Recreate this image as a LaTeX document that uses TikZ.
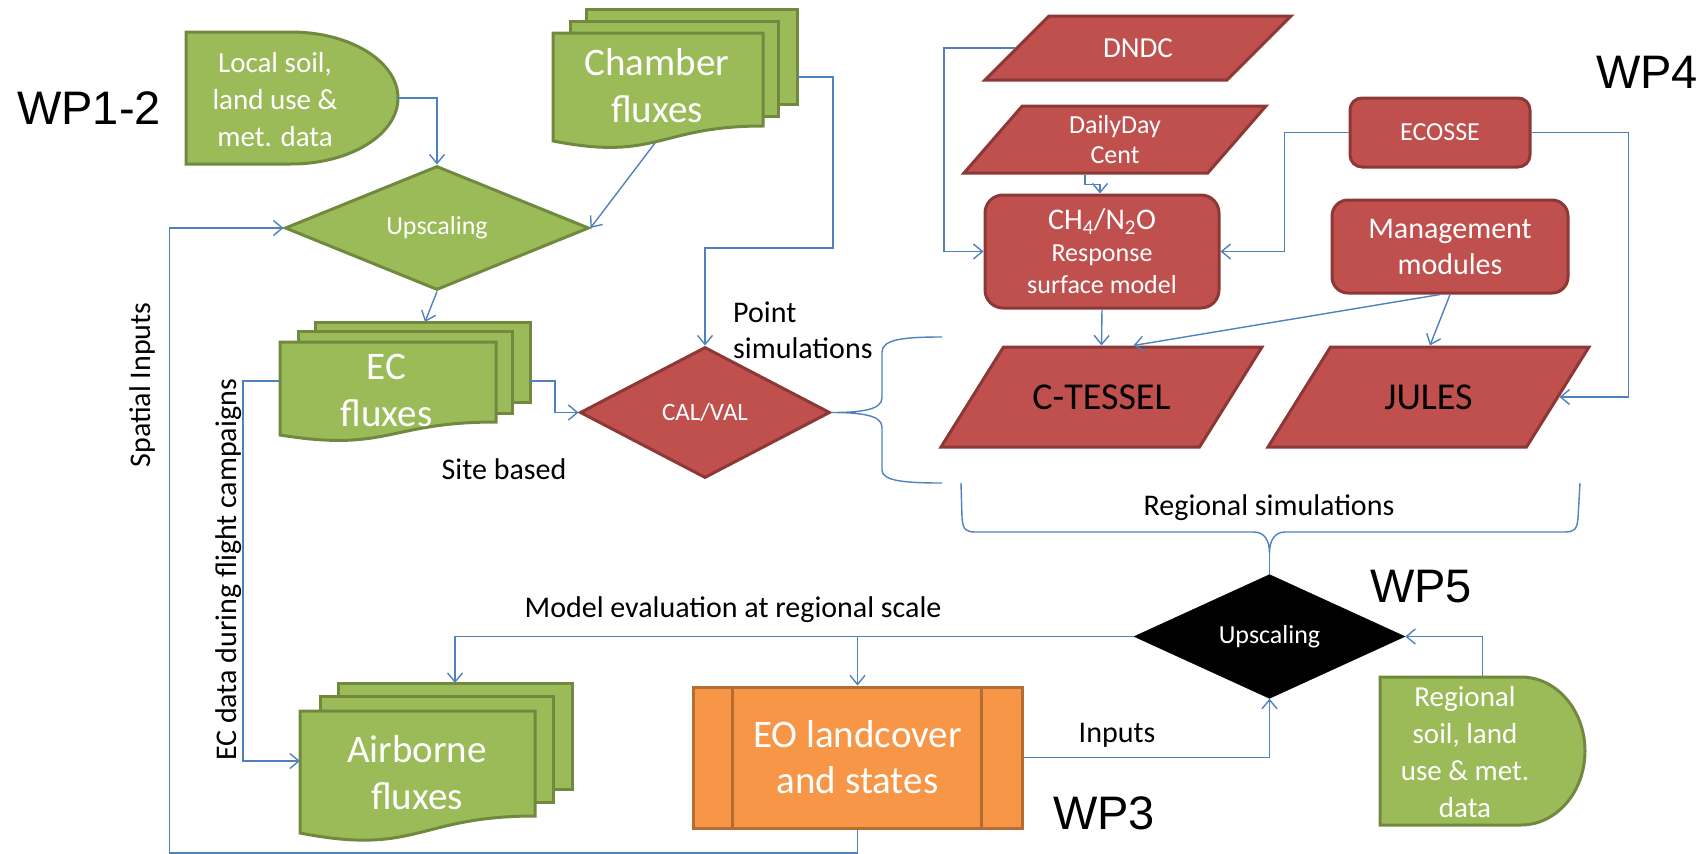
\documentclass[tikz,border=0pt]{standalone}
\usepackage{fontspec}
\setmainfont{Carlito}
\newfontfamily\wpfont{Liberation Sans}
\usetikzlibrary{shapes.geometric,arrows.meta,positioning}

\definecolor{leafgreen}{HTML}{9BBB59}
\definecolor{leafdark}{HTML}{71893F}
\definecolor{brick}{HTML}{C0504D}
\definecolor{brickdark}{HTML}{8C3836}
\definecolor{eoorange}{HTML}{F79646}
\definecolor{eodark}{HTML}{B66D31}
\definecolor{flowblue}{HTML}{4F81BD}

\begin{document}
\begin{tikzpicture}[x=1pt,y=-1pt,
  flow/.style={draw=flowblue,line width=1.4pt,-{Straight Barb[length=9pt,width=15pt]}},
  brace/.style={draw=flowblue,line width=1.4pt},
  gshape/.style={fill=leafgreen,draw=leafdark,line width=3pt},
  rshape/.style={fill=brick,draw=brickdark,line width=3pt},
  slanted/.style={rshape,trapezium,inner xsep=0pt,text height=0pt,text depth=0pt},
  wtext/.style={text=white,align=center,inner sep=0pt},
  area/.style={inner sep=0pt,outer sep=0pt},
  note/.style={inner sep=0pt,font=\fontsize{30}{36}\selectfont},
  wp/.style={inner sep=0pt,font=\wpfont\fontsize{47}{50}\selectfont}]
  \useasboundingbox (0,0) rectangle (1706,854);

  % Work package tags
  \node[wp] (wp12) at (89,108) {WP1-2};
  \node[wp] (wp4) at (1647,72) {WP4};
  \node[wp] (wp5) at (1421,587) {WP5};
  \node[wp] (wp3) at (1104,813) {WP3};

  % Local data (delay shape)
  \draw[gshape] (186,32) -- (291,32) .. controls (350.1,32) and (398,61.55) .. (398,98)
    .. controls (398,134.45) and (350.1,164) .. (291,164) -- (186,164) -- cycle;
  \node[area,minimum width=212pt,minimum height=132pt] (localsoil) at (292,98) {};
  \node[wtext,font=\fontsize{29}{37}\selectfont] (localsoil-t) at (275,100) {Local soil,\\land use \&\\met. data};

  % Chamber fluxes stack
  \draw[gshape] (586,9) rectangle (797,104);
  \draw[gshape] (570,21) rectangle (778,116);
  \draw[gshape] (553,33) -- (763,33) -- (763,126) .. controls (658,126) and (658,161.5) .. (553,141) -- cycle;
  \node[area,minimum width=244pt,minimum height=136pt] (chamber) at (675,77) {};
  \node[wtext,font=\fontsize{39}{47}\selectfont] (chamber-t) at (657,86) {Chamber\\fluxes};

  \node[gshape,diamond,minimum width=304pt,minimum height=113pt,inner sep=0pt,
    text=white,font=\fontsize{26}{30}\selectfont] (up1) at (437,228) {Upscaling};

  % EC fluxes stack
  \draw[gshape] (315,322) rectangle (530,402);
  \draw[gshape] (298,331) rectangle (512,413);
  \draw[gshape] (280,342) -- (496,342) -- (496,422) .. controls (388,422) and (388,452.5) .. (280,435) -- cycle;
  \node[area,minimum width=250pt,minimum height=118pt] (ecflux) at (405,381) {};
  \node[wtext,font=\fontsize{39}{47}\selectfont] (ecflux-t) at (386.5,390) {EC\\fluxes};

  \node[rshape,diamond,minimum width=250pt,minimum height=131pt,inner sep=0pt,
    text=white,font=\fontsize{25}{30}\selectfont] (calval) at (705,412.5) {CAL/VAL};

  % Airborne fluxes stack
  \draw[gshape] (338,683) rectangle (572,789);
  \draw[gshape] (320,696) rectangle (553,802);
  \draw[gshape] (300,711) -- (535,711) -- (535,816) .. controls (417.5,816) and (417.5,856) .. (300,833) -- cycle;
  \node[area,minimum width=272pt,minimum height=156pt] (airborne) at (436,761) {};
  \node[wtext,font=\fontsize{39}{47}\selectfont] (airborne-t) at (417,773) {Airborne\\fluxes};

  % WP4 models
  \node[slanted,trapezium left angle=45,trapezium right angle=135,
    text width=178pt,inner ysep=32pt] (dndc) at (1138,48) {};
  \node[wtext,font=\fontsize{29}{34}\selectfont] (dndc-t) at (dndc.center) {DNDC};
  \node[slanted,trapezium left angle=49,trapezium right angle=131,
    text width=185.5pt,inner ysep=33.5pt] (daily) at (1115,139.5) {};
  \node[wtext,font=\fontsize{26}{30}\selectfont] (daily-t) at (daily.center) {DailyDay\\Cent};
  \node[rshape,rounded corners=18pt,minimum width=234pt,minimum height=113pt,inner sep=0pt,
    text=white,align=center,font=\fontsize{26}{32}\selectfont] (ch4) at (1102,251.5)
    {{\fontsize{30}{33}\selectfont CH\textsubscript{4}/N\textsubscript{2}O}\\Response\\surface model};
  \node[rshape,rounded corners=12pt,minimum width=180pt,minimum height=69pt,inner sep=0pt,
    text=white,font=\fontsize{26}{30}\selectfont] (ecosse) at (1440,132.5) {ECOSSE};
  \node[rshape,rounded corners=16pt,minimum width=236pt,minimum height=93pt,inner sep=0pt,
    text=white,align=center,font=\fontsize{30}{36}\selectfont] (mgmt) at (1450,246.5) {Management\\modules};
  \node[slanted,trapezium left angle=58,trapezium right angle=122,
    text width=196pt,inner ysep=50pt] (ctessel) at (1101.5,397) {};
  \node[inner sep=0pt,font=\fontsize{38}{44}\selectfont] (ctessel-t) at (ctessel.center) {C-TESSEL};
  \node[slanted,trapezium left angle=58,trapezium right angle=122,
    text width=196pt,inner ysep=50pt] (jules) at (1428.5,397) {};
  \node[inner sep=0pt,font=\fontsize{38}{44}\selectfont] (jules-t) at (jules.center) {JULES};

  % WP5 and WP3
  \node[diamond,fill=black,draw=black,minimum width=271pt,minimum height=113pt,inner sep=0pt,
    text=white,font=\fontsize{26}{30}\selectfont] (up2) at (1269.5,636.5) {Upscaling};
  \draw[gshape] (1380,677) -- (1521,677) .. controls (1556.3,677) and (1585,710.1) .. (1585,751)
    .. controls (1585,791.9) and (1556.3,825) .. (1521,825) -- (1380,825) -- cycle;
  \node[area,minimum width=205pt,minimum height=148pt] (regsoil) at (1482.5,751) {};
  \node[wtext,font=\fontsize{29}{37}\selectfont] (regsoil-t) at (1465,752) {Regional\\soil, land\\use \& met.\\data};
  \node[fill=eoorange,draw=eodark,line width=3pt,minimum width=329pt,minimum height=141pt,inner sep=0pt,
    text=white,align=center,font=\fontsize{39}{46}\selectfont] (eo) at (857.5,757.5) {EO landcover\\and states};
  \draw[eodark,line width=3pt] ([xshift=41pt]eo.north west) -- ([xshift=41pt]eo.south west);
  \draw[eodark,line width=3pt] ([xshift=-42pt]eo.north east) -- ([xshift=-42pt]eo.south east);

  % Connectors
  \draw[flow] (localsoil.east) -| (up1.north);
  \draw[flow] ([xshift=-20pt,yshift=2pt]chamber.south) -- (up1.east);
  \draw[flow] (chamber.east) -- ++(36,0) -- ++(0,171) -| (calval.north);
  \draw[flow] (up1.south) -- ([xshift=20pt]ecflux.north);
  \draw[flow] (eo.south) |- (169.5,853) |- (up1.west);
  \draw[flow] (ecflux.east) -- ++(25,0) |- (calval.west);
  \draw[flow] (ecflux.west) -- ++(-37,0) |- (airborne.west);
  \draw[flow] (dndc.west) -- ++(-71,0) |- (ch4.west);
  \draw[flow] ([xshift=-30pt]daily.south) -- ++(0,10) -| ([xshift=-2pt]ch4.north);
  \draw[flow] (ecosse.west) -- ++(-64,0) |- (ch4.east);
  \draw[flow] (ecosse.east) -- ++(97,0) |- (jules.east);
  \draw[flow] (ch4.south) -- (ctessel.north);
  \draw[flow] ([xshift=-10pt]mgmt.south) -- ([xshift=32pt]ctessel.north);
  \draw[flow] (mgmt.south) -- ([xshift=1.5pt]jules.north);
  \draw[flow] (up2.west) -| ([xshift=19pt]airborne.north);
  \draw[flow] (eo.north |- up2.west) -- (eo.north);
  \draw[flow] (eo.east) -| (up2.south);
  \draw[flow] (regsoil.north) |- (up2.east);

  % Braces
  \draw[brace] (942,337) .. controls (905,337) and (882,339) .. (882,352) -- (882,398)
    .. controls (882,410) and (860,412.5) .. (calval.east)
    .. controls (860,412.5) and (882,415) .. (882,427) -- (882,470)
    .. controls (882,481) and (905,483) .. (942,483);
  \coordinate (regtip) at (1269.5,553);
  \draw[brace] (961,483) -- (962,518) .. controls (963,530) and (966,532) .. (976,532) -- (1254,532)
    .. controls (1264,532) and (1269.5,540) .. (regtip)
    .. controls (1269.5,540) and (1275,532) .. (1285,532) -- (1564,532)
    .. controls (1574,532) and (1577,530) .. (1578,518) -- (1580,483);
  \draw[brace] (regtip) -- (up2.north);

  % Labels
  \node[note,align=left,anchor=west] (pointsim) at (733,330) {Point\\simulations};
  \node[note] (sitebased) at (504,469) {Site based};
  \node[note] (regsim) at (1269,508) {Regional simulations};
  \node[note] (modeleval) at (733,610) {Model evaluation at regional scale};
  \node[note] (inputs) at (1117,735) {Inputs};
  \node[note,rotate=90] (spatial) at (142,385) {Spatial Inputs};
  \node[note,rotate=90] (ecdata) at (229,570) {EC data during flight campaigns};
\end{tikzpicture}
\end{document}
